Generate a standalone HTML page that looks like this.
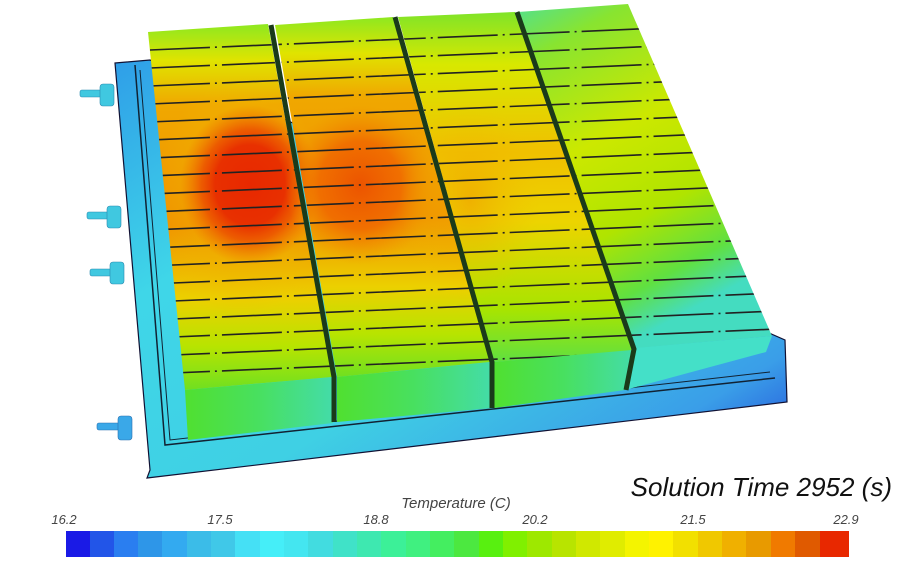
<!DOCTYPE html>
<html><head><meta charset="utf-8"><style>
html,body{margin:0;padding:0;background:#fff;width:907px;height:561px;overflow:hidden}
svg{display:block}
text{font-family:"Liberation Sans",sans-serif;font-style:italic}
</style></head><body>
<svg width="907" height="561" viewBox="0 0 907 561" xmlns="http://www.w3.org/2000/svg">
<defs>
<linearGradient id="m1" x1="0" y1="0" x2="0" y2="1">
<stop offset="0" stop-color="#8ee820"/><stop offset="0.1" stop-color="#e0e400"/><stop offset="0.22" stop-color="#f0a800"/><stop offset="0.55" stop-color="#f09000"/><stop offset="0.75" stop-color="#ecd000"/><stop offset="0.88" stop-color="#b8e400"/><stop offset="1" stop-color="#70e020"/>
</linearGradient>
<linearGradient id="m3" x1="0" y1="0" x2="0" y2="1">
<stop offset="0" stop-color="#80e428"/><stop offset="0.15" stop-color="#d8e800"/><stop offset="0.4" stop-color="#f0c000"/><stop offset="0.6" stop-color="#ecd400"/><stop offset="0.85" stop-color="#a8e400"/><stop offset="1" stop-color="#60e040"/>
</linearGradient>
<linearGradient id="m4" x1="0" y1="0" x2="0.4" y2="1">
<stop offset="0" stop-color="#50e090"/><stop offset="0.15" stop-color="#88e430"/><stop offset="0.45" stop-color="#cce800"/><stop offset="0.7" stop-color="#b0e400"/><stop offset="0.88" stop-color="#60e040"/><stop offset="1" stop-color="#44dcc0"/>
</linearGradient>
<linearGradient id="tray" x1="0" y1="0" x2="1" y2="1">
<stop offset="0" stop-color="#2f9ee8"/><stop offset="0.3" stop-color="#3fd6e8"/><stop offset="0.6" stop-color="#3fd0e4"/><stop offset="0.85" stop-color="#3a9ee8"/><stop offset="1" stop-color="#1f3fd8"/>
</linearGradient>
<radialGradient id="hot1" cx="0.5" cy="0.5" r="0.5">
<stop offset="0" stop-color="#e82800"/><stop offset="0.5" stop-color="#e83000"/><stop offset="0.7" stop-color="#ec5000" stop-opacity="0.85"/><stop offset="1" stop-color="#f07000" stop-opacity="0"/>
</radialGradient>
<radialGradient id="hot2" cx="0.5" cy="0.5" r="0.5">
<stop offset="0" stop-color="#ec5400"/><stop offset="0.55" stop-color="#f06800" stop-opacity="0.85"/><stop offset="1" stop-color="#f09000" stop-opacity="0"/>
</radialGradient>
<radialGradient id="warm" cx="0.5" cy="0.5" r="0.5">
<stop offset="0" stop-color="#f0a000" stop-opacity="0.9"/><stop offset="1" stop-color="#f0c000" stop-opacity="0"/>
</radialGradient>
<linearGradient id="front" x1="0" y1="0" x2="1" y2="0">
<stop offset="0" stop-color="#50e030"/><stop offset="0.5" stop-color="#48e060"/><stop offset="1" stop-color="#44dca8"/>
</linearGradient>
<clipPath id="tops">
<polygon points="148,32 268,24 332,377 185,390"/>
<polygon points="275,25 393,17 490,362 337,377"/>
<polygon points="398,17 515,12 632,350 494,362"/>
<polygon points="518,12 628,4 772,336 636,348"/>
</clipPath>
</defs>
<!-- tray -->
<polygon points="115,63 150,60 785,340 787,402 147,478 150,470" fill="url(#tray)" stroke="#113" stroke-width="1.2"/>
<polyline points="135,65 165,445 775,378" fill="none" stroke="#123" stroke-width="1.5"/>
<polyline points="140,70 170,440 770,372" fill="none" stroke="#123" stroke-width="1"/>
<g fill="#40c8e0" stroke="#2a8ab0" stroke-width="0.6">
<rect x="80" y="90" width="30" height="7" rx="2"/><rect x="100" y="84" width="14" height="22" rx="3"/>
<rect x="87" y="212" width="30" height="7" rx="2"/><rect x="107" y="206" width="14" height="22" rx="3"/>
<rect x="90" y="269" width="30" height="7" rx="2"/><rect x="110" y="262" width="14" height="22" rx="3"/>
</g>
<g fill="#3aa8e8" stroke="#2a70b0" stroke-width="0.6">
<rect x="97" y="423" width="30" height="7" rx="2"/><rect x="118" y="416" width="14" height="24" rx="3"/>
</g>
<!-- fronts -->
<polygon points="185,390 333,377 333,423 188,440" fill="url(#front)"/>
<polygon points="337,377 492,362 492,408 337,422" fill="url(#front)"/>
<polygon points="494,362 634,349 625,390 494,408" fill="url(#front)"/>
<polygon points="634,348 772,336 766,352 625,390" fill="#44e0c8"/>
<!-- tops -->
<polygon points="148,32 268,24 332,377 185,390" fill="url(#m1)"/>
<polygon points="275,25 393,17 490,362 337,377" fill="url(#m1)"/>
<polygon points="398,17 515,12 632,350 494,362" fill="url(#m3)"/>
<polygon points="518,12 628,4 772,336 636,348" fill="url(#m4)"/>
<g clip-path="url(#tops)">
<ellipse cx="240" cy="200" rx="85" ry="120" fill="url(#warm)"/>
<ellipse cx="250" cy="185" rx="70" ry="80" fill="url(#hot1)"/>
<ellipse cx="360" cy="185" rx="75" ry="80" fill="url(#hot2)"/>
<ellipse cx="470" cy="200" rx="70" ry="100" fill="url(#warm)" opacity="0.7"/>
<g stroke="#222" stroke-width="1.6" stroke-dasharray="60 5 2 5">
<line x1="150" y1="50" x2="800" y2="22"/><line x1="150" y1="68" x2="800" y2="40"/>
<line x1="150" y1="86" x2="800" y2="58"/><line x1="150" y1="104" x2="800" y2="76"/>
<line x1="150" y1="122" x2="800" y2="94"/><line x1="150" y1="140" x2="800" y2="112"/>
<line x1="150" y1="158" x2="800" y2="130"/><line x1="150" y1="176" x2="800" y2="148"/>
<line x1="150" y1="194" x2="800" y2="166"/><line x1="150" y1="212" x2="800" y2="184"/>
<line x1="150" y1="230" x2="800" y2="202"/><line x1="150" y1="248" x2="800" y2="220"/>
<line x1="150" y1="266" x2="800" y2="238"/><line x1="150" y1="284" x2="800" y2="256"/>
<line x1="150" y1="302" x2="800" y2="274"/><line x1="150" y1="320" x2="800" y2="292"/>
<line x1="150" y1="338" x2="800" y2="310"/><line x1="150" y1="356" x2="800" y2="328"/>
<line x1="150" y1="374" x2="800" y2="346"/>
</g>
</g>
<!-- gaps -->
<g fill="none" stroke="#1a3a1a" stroke-width="5">
<polyline points="271,25 334,377 334,422"/>
<polyline points="395,17 492,362 492,408"/>
<polyline points="517,12 634,349 626,390"/>
</g>
<!-- colorbar -->
<g>
<rect x="66" y="531" width="25" height="26" fill="#1a1ae6"/><rect x="90" y="531" width="25" height="26" fill="#2255e8"/>
<rect x="114" y="531" width="25" height="26" fill="#2a7ef0"/><rect x="138" y="531" width="25" height="26" fill="#2e96e8"/>
<rect x="162" y="531" width="25" height="26" fill="#33aaf0"/><rect x="187" y="531" width="25" height="26" fill="#3bbce8"/>
<rect x="211" y="531" width="25" height="26" fill="#40c8e8"/><rect x="235" y="531" width="25" height="26" fill="#45e0f5"/>
<rect x="260" y="531" width="25" height="26" fill="#45eef8"/><rect x="284" y="531" width="25" height="26" fill="#44e6f0"/>
<rect x="308" y="531" width="25" height="26" fill="#42dce0"/><rect x="333" y="531" width="25" height="26" fill="#40e2c8"/>
<rect x="357" y="531" width="25" height="26" fill="#3ee8b0"/><rect x="381" y="531" width="25" height="26" fill="#3cf098"/>
<rect x="406" y="531" width="25" height="26" fill="#40f080"/><rect x="430" y="531" width="25" height="26" fill="#44ee60"/>
<rect x="454" y="531" width="25" height="26" fill="#4ce840"/><rect x="479" y="531" width="25" height="26" fill="#58f010"/>
<rect x="503" y="531" width="25" height="26" fill="#80f000"/><rect x="527" y="531" width="25" height="26" fill="#9ee800"/>
<rect x="552" y="531" width="25" height="26" fill="#b8e400"/><rect x="576" y="531" width="25" height="26" fill="#d0e800"/>
<rect x="600" y="531" width="25" height="26" fill="#e0ec00"/><rect x="625" y="531" width="25" height="26" fill="#f4f400"/>
<rect x="649" y="531" width="25" height="26" fill="#fff200"/><rect x="673" y="531" width="25" height="26" fill="#f2e000"/>
<rect x="698" y="531" width="25" height="26" fill="#f0c800"/><rect x="722" y="531" width="25" height="26" fill="#f0b000"/>
<rect x="746" y="531" width="25" height="26" fill="#e89a00"/><rect x="771" y="531" width="25" height="26" fill="#f07a00"/>
<rect x="795" y="531" width="25" height="26" fill="#e05a00"/><rect x="820" y="531" width="29" height="26" fill="#e82800"/>
</g>
<g font-size="13" fill="#444" text-anchor="middle">
<text x="64" y="524">16.2</text><text x="220" y="524">17.5</text><text x="376" y="524">18.8</text>
<text x="535" y="524">20.2</text><text x="693" y="524">21.5</text><text x="846" y="524">22.9</text>
</g>
<text x="456" y="508" font-size="15" fill="#444" text-anchor="middle">Temperature (C)</text>
<text x="892" y="496" font-size="26" fill="#111" text-anchor="end">Solution Time 2952 (s)</text>
</svg>
</body></html>
